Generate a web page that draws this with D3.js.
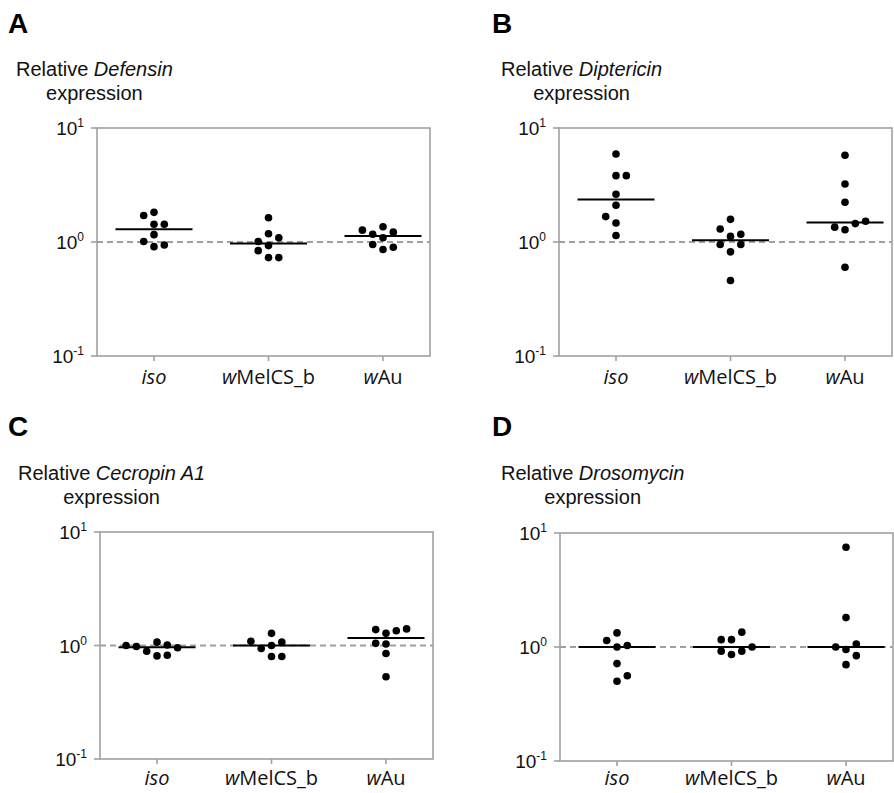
<!DOCTYPE html>
<html>
<head>
<meta charset="utf-8" />
<title>Relative AMP expression</title>
<script src="https://d3js.org/d3.v7.min.js"></script>
<style>
  body { margin: 0; background: #fff; }
  svg { display: block; background: #fff; }
  .letter { font-family: "Liberation Sans", Arial, sans-serif; font-size: 28px; font-weight: bold; }
  .title { font-family: "Liberation Sans", Arial, sans-serif; font-size: 20px; fill: #111; }
  .ytick { font-family: "Liberation Sans", Arial, sans-serif; font-size: 19px; fill: #111; }
  .cat { font-family: "Open Sans", sans-serif; font-size: 20px; fill: #111; }
</style>
</head>
<body>
<svg width="894" height="793"></svg>
<script>
// ---- data ----
const groups = ["iso", "wMelCS_b", "wAu"];
const yTicks = [0.1, 1, 10];
const tickExponents = ["-1", "0", "1"];
const panelLetters = ["A", "B", "C", "D"];
const genes = ["Defensin", "Diptericin", "Cecropin A1", "Drosomycin"];

// replicate values per genotype (order matters only for the dot layout)
const defensinIso = [1.82, 1.43, 1.43, 1.71, 1.16, 0.91, 0.94, 1.01];
const defensinWMel = [1.63, 1.18, 0.93, 1.09, 1.01, 0.73, 0.73, 0.84];
const defensinWAu = [1.36, 1.09, 1.22, 1.17, 0.86, 0.90, 1.27, 0.95];

const diptericinIso = [5.91, 3.82, 3.82, 2.62, 2.10, 1.47, 1.67, 1.14];
const diptericinWMel = [1.58, 1.12, 0.82, 0.46, 1.17, 1.30, 0.95, 0.95];
const diptericinWAu = [5.76, 3.23, 2.23, 1.28, 0.60, 1.45, 1.35, 1.52];

const cecropinIso = [1.07, 0.81, 0.82, 0.89, 0.955, 0.98, 1.01, 1.0];
const cecropinWMel = [1.28, 1.0, 0.80, 1.07, 0.94, 0.80, 1.09];
const cecropinWAu = [1.28, 0.85, 0.53, 1.35, 1.38, 1.40, 1.03, 1.045];

const drosomycinIso = [1.33, 1.0, 0.715, 0.50, 1.03, 1.14, 0.56];
const drosomycinWMel = [1.16, 0.86, 1.35, 1.16, 0.92, 0.92, 1.0];
const drosomycinWAu = [7.49, 1.81, 0.95, 0.70, 1.06, 1.0, 0.84];

const panelValues = [
  [defensinIso, defensinWMel, defensinWAu],
  [diptericinIso, diptericinWMel, diptericinWAu],
  [cecropinIso, cecropinWMel, cecropinWAu],
  [drosomycinIso, drosomycinWMel, drosomycinWAu]
];

// ---- layout ----
const svg = d3.select("svg");
const boxW = 333;
const layouts = [
  { left: 97, top: 128, bottom: 356, catY: 384, titleX: 16, titleY: 76, letterX: 8, letterY: 33 },
  { left: 559, top: 128, bottom: 356, catY: 384, titleX: 501, titleY: 76, letterX: 492, letterY: 33 },
  { left: 100, top: 532, bottom: 759, catY: 785, titleX: 18, titleY: 480, letterX: 8, letterY: 436 },
  { left: 560, top: 533, bottom: 761, catY: 785, titleX: 501, titleY: 480, letterX: 492, letterY: 436 }
];
const gray = "#a0a0a0";
const dotR = 3.8;
const dotGap = 10.3;   // horizontal step between dot columns
const minDy = 9;       // same-column dots closer than this get pushed sideways
const halfMedian = 38.5;

// simple greedy swarm: centre first, then the emptier side
function swarm(values, y) {
  const placed = [];
  let left = 0, right = 0;
  values.forEach(v => {
    const py = y(v);
    const free = s => !placed.some(p => p.slot === s && Math.abs(p.y - py) < minDy);
    let slot = null;
    if (free(0)) slot = 0;
    for (let k = 1; slot === null && k < 10; k++) {
      const order = left < right ? [-k, k] : [k, -k];
      for (const s of order) {
        if (free(s)) { slot = s; break; }
      }
    }
    if (slot < 0) left++;
    if (slot > 0) right++;
    placed.push({ v, y: py, slot });
  });
  return placed;
}

layouts.forEach((L, i) => {
  const g = svg.append("g");
  const y = d3.scaleLog().domain([0.1, 10]).range([L.bottom, L.top]);
  const x = d3.scalePoint().domain(groups).range([L.left + 57, L.left + 286]);

  // panel letter
  g.append("text").attr("class", "letter")
    .attr("x", L.letterX).attr("y", L.letterY).text(panelLetters[i]);

  // axis title, two lines, second centred under first
  const t1 = g.append("text").attr("class", "title")
    .attr("x", L.titleX).attr("y", L.titleY);
  t1.append("tspan").text("Relative ");
  t1.append("tspan").attr("font-style", "italic").text(genes[i]);
  const w1 = t1.node().getComputedTextLength();
  g.append("text").attr("class", "title")
    .attr("x", L.titleX + w1 / 2).attr("y", L.titleY + 24)
    .attr("text-anchor", "middle").text("expression");

  // frame
  g.append("rect")
    .attr("x", L.left).attr("y", L.top)
    .attr("width", boxW).attr("height", L.bottom - L.top)
    .attr("fill", "none").attr("stroke", gray).attr("stroke-width", 1.6);

  // y ticks + labels
  yTicks.forEach((tv, j) => {
    g.append("line")
      .attr("x1", L.left - 6).attr("x2", L.left)
      .attr("y1", y(tv)).attr("y2", y(tv))
      .attr("stroke", gray).attr("stroke-width", 1.6);
    const lab = g.append("text").attr("class", "ytick")
      .attr("x", L.left - 13).attr("y", y(tv) + 7)
      .attr("text-anchor", "end");
    lab.append("tspan").text("10");
    lab.append("tspan").attr("dy", -8).attr("font-size", 12).text(tickExponents[j]);
  });

  // x ticks + labels
  groups.forEach(cat => {
    g.append("line")
      .attr("x1", x(cat)).attr("x2", x(cat))
      .attr("y1", L.bottom).attr("y2", L.bottom + 5)
      .attr("stroke", gray).attr("stroke-width", 1.6);
    const lab = g.append("text").attr("class", "cat")
      .attr("x", x(cat)).attr("y", L.catY)
      .attr("text-anchor", "middle");
    if (cat === "iso") {
      lab.append("tspan").attr("font-style", "italic").text("iso");
    } else {
      lab.append("tspan").attr("font-style", "italic").text("w");
      lab.append("tspan").text(cat.slice(1));
    }
  });

  // reference line at 1
  g.append("line")
    .attr("x1", L.left).attr("x2", L.left + boxW)
    .attr("y1", y(1)).attr("y2", y(1))
    .attr("stroke", gray).attr("stroke-width", 2)
    .attr("stroke-dasharray", "6,4");

  // medians + dots
  groups.forEach((cat, k) => {
    const vals = panelValues[i][k];
    const med = d3.median(vals);
    g.append("line")
      .attr("x1", x(cat) - halfMedian).attr("x2", x(cat) + halfMedian)
      .attr("y1", y(med)).attr("y2", y(med))
      .attr("stroke", "#000").attr("stroke-width", 2);

    g.selectAll(null)
      .data(swarm(vals, y))
      .enter().append("circle")
      .attr("cx", d => x(cat) + d.slot * dotGap)
      .attr("cy", d => d.y)
      .attr("r", dotR)
      .attr("fill", "#000");
  });
});
</script>
</body>
</html>
